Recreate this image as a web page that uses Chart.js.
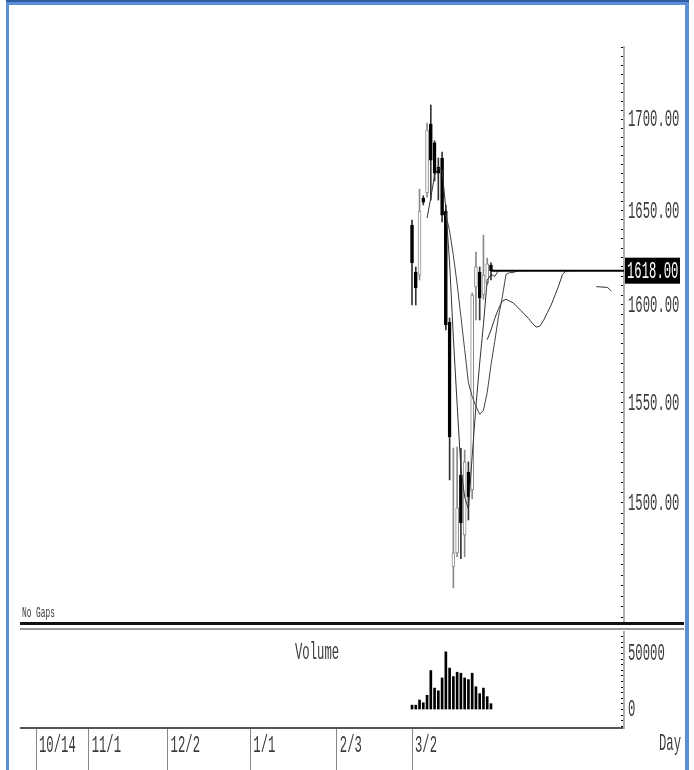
<!DOCTYPE html>
<html>
<head>
<meta charset="utf-8">
<script src="https://cdn.jsdelivr.net/npm/chart.js@4.4.1/dist/chart.umd.min.js"></script>
<style>
  html, body { margin: 0; padding: 0; background: #fff; }
  body { width: 694px; height: 770px; position: relative; overflow: hidden;
         font-family: 'Liberation Mono', 'DejaVu Sans Mono', monospace; }
  .frame-left  { position: absolute; left: 6px; top: 0; width: 3px; height: 770px; background: #5a8fd8; }
  .frame-right { position: absolute; left: 685px; top: 0; width: 4px; height: 770px; background: #5a8fd8; }
  .frame-top   { position: absolute; left: 6px; top: 0; width: 683px; height: 5px; background: #5a8fd8;
                 border-top: 2px solid #2f5d9e; box-sizing: border-box; }
  .sep-black { position: absolute; left: 20px; top: 622px; width: 664px; height: 3px; background: #111; }
  .sep-gray  { position: absolute; left: 20px; top: 628px; width: 664px; height: 2px; background: #999; }
  #priceWrap { position: absolute; left: 20px; top: 40px; width: 664px; height: 585px; }
  #volWrap   { position: absolute; left: 20px; top: 625px; width: 664px; height: 145px; }
  .lbl { position: absolute; color: #3a3a3a; white-space: nowrap; transform-origin: 0 50%; line-height: 1; }
  .big { font-size: 24px; transform: scaleX(0.51); }
  .small { font-size: 14px; transform: scaleX(0.56); }
</style>
</head>
<body>
<div id="priceWrap"><canvas id="price" width="664" height="585"></canvas></div>
<div id="volWrap"><canvas id="volume" width="664" height="145"></canvas></div>
<div class="sep-black"></div>
<div class="sep-gray"></div>
<div class="lbl small" style="left:22px; top:606px;">No Gaps</div>
<div class="lbl big" style="left:295px; top:641px;">Volume</div>
<div class="lbl big" style="left:659px; top:732px;">Day</div>
<div class="frame-left"></div>
<div class="frame-right"></div>
<div class="frame-top"></div>

<script>
// daily bars, index 0 = 3/2
const opens  = [1642.3, 1617.3, 1615.7, 1656.8, 1659.5, 1697.2, 1686.8, 1673.6, 1678.5, 1649.8, 1591.1,
                1469.1, 1475.8, 1513.7, 1484.5, 1515.2, 1506.4, 1609.4, 1617.3, 1605.2, 1611.5, 1621.0];
const highs  = [1644.9, 1620.0, 1661.6, 1658.0, 1697.8, 1707.8, 1688.0, 1678.5, 1681.8, 1653.0, 1593.2,
                1527.1, 1527.6, 1527.0, 1526.1, 1520.2, 1606.3, 1627.9, 1620.0, 1636.9, 1624.7, 1622.1];
const lows   = [1600.0, 1600.0, 1613.1, 1653.0, 1657.3, 1655.7, 1666.0, 1655.7, 1643.9, 1587.0, 1511.3,
                1459.0, 1474.0, 1473.0, 1473.9, 1491.7, 1502.0, 1592.2, 1592.2, 1603.0, 1610.5, 1613.1];
const closes = [1622.1, 1608.9, 1649.8, 1654.6, 1693.9, 1677.4, 1670.3, 1670.3, 1647.6, 1589.6, 1532.6,
                1475.8, 1497.6, 1490.3, 1520.2, 1502.9, 1605.2, 1620.0, 1603.7, 1615.7, 1621.6, 1618.0];
const volumes = [3900, 3900, 8500, 6000, 12700, 34800, 19100, 16700, 28200, 51500, 37000,
                 29400, 33300, 32400, 28200, 26700, 32400, 20300, 14200, 19100, 11500, 5200];

// moving averages by bar index (null = not drawn)
const maFast = [null, null, null, null, 1646, 1657, 1669, 1673, 1672, 1651, 1622, 1583, 1549, 1517,
                1503, 1497, 1523, 1548, 1570, 1590, 1613, 1616, 1615, 1618, 1618];
const maMid  = [null, null, null, null, null, null, null, null, null, 1648, 1639, 1626, 1611, 1594,
                1577, 1560, 1553, 1548, 1544, 1546, 1555, 1569, 1581, 1594, 1604, 1616, 1617, 1617,
                1618, 1618, 1618];
const maSlowStart = 20;
const maSlow = [1582, 1587, 1593, 1598, 1602, 1603, 1602, 1601, 1599, 1597, 1595, 1593, 1590.5, 1588.5,
                1589, 1592, 1596, 1600, 1605, 1610, 1616, 1618, 1618, 1618];
const dashX = [49, 52, 53];
const dashY = [1609.6, 1609.2, 1607.3];
const lastLineX = [21, 57];

// axes
const priceLabels = [1500, 1550, 1600, 1650, 1700];
const dateTicks = [-100, -86, -65, -43, -20, 0];
const dateLabels = ['10/14', '11/1', '12/2', '1/1', '2/3', '3/2'];
const volLabels = [0, 50000];

const xMin = -104.26, xMax = 56.38;
const lastPrice = closes[closes.length - 1];

const NARROW_FONT = "24px 'Liberation Mono', 'DejaVu Sans Mono', monospace";
const NARROW_SX = 0.51;
const textColor = '#3a3a3a';

function series(arr, start) {
    const pts = [];
    arr.forEach((v, i) => { if (v !== null) pts.push({ x: i + (start || 0), y: v }); });
    return pts;
}

// condensed text, like the terminal font of the original
function drawNarrow(ctx, text, x, y, color) {
    ctx.save();
    ctx.font = NARROW_FONT;
    ctx.fillStyle = color;
    ctx.textBaseline = 'middle';
    ctx.textAlign = 'left';
    ctx.translate(x, y);
    ctx.scale(NARROW_SX, 1);
    ctx.fillText(text, 0, 0);
    const w = ctx.measureText(text).width * NARROW_SX;
    ctx.restore();
    return w;
}

const isUp = closes.map((c, i) => c >= opens[i]);

const priceTickValues = [];
for (let v = 1445; v <= 1740; v += 5) priceTickValues.push(v);
const volTickValues = [];
for (let v = -15000; v <= 65000; v += 5000) volTickValues.push(v);

const priceLabelPlugin = {
    id: 'priceLabels',
    afterDraw(chart) {
        const scale = chart.scales.y;
        const ctx = chart.ctx;
        priceLabels.forEach(v => {
            drawNarrow(ctx, v.toFixed(2), scale.left + 4, scale.getPixelForValue(v) + 1, textColor);
        });
        // black box with the last price
        const y = scale.getPixelForValue(lastPrice);
        ctx.save();
        ctx.fillStyle = '#000';
        ctx.fillRect(scale.left + 1, y - 13, 55, 26);
        ctx.restore();
        drawNarrow(ctx, lastPrice.toFixed(2), scale.left + 3, y + 1, '#fff');
    }
};

const volumeLabelPlugin = {
    id: 'volumeLabels',
    afterDraw(chart) {
        const ctx = chart.ctx;
        const ys = chart.scales.y;
        const xs = chart.scales.x;
        volLabels.forEach(v => {
            drawNarrow(ctx, String(v), ys.left + 4, ys.getPixelForValue(v), textColor);
        });
        dateTicks.forEach((t, i) => {
            drawNarrow(ctx, dateLabels[i], xs.getPixelForValue(t) + 3, xs.top + 18, textColor);
        });
    }
};

const priceChart = new Chart(document.getElementById('price'), {
    type: 'bar',
    data: {
        datasets: [
            {
                type: 'line', label: 'last', order: 0,
                data: lastLineX.map(x => ({ x: x, y: lastPrice })),
                borderColor: '#000', borderWidth: 2, pointRadius: 0
            },
            {
                type: 'line', label: 'fast', order: 1,
                data: series(maFast), borderColor: '#333', borderWidth: 1, pointRadius: 0
            },
            {
                type: 'line', label: 'mid', order: 1,
                data: series(maMid), borderColor: '#444', borderWidth: 1, pointRadius: 0
            },
            {
                type: 'line', label: 'slow', order: 1,
                data: series(maSlow, maSlowStart), borderColor: '#333', borderWidth: 1, pointRadius: 0
            },
            {
                type: 'line', label: 'dash', order: 1,
                data: dashX.map((x, i) => ({ x: x, y: dashY[i] })),
                borderColor: '#333', borderWidth: 1, pointRadius: 0
            },
            {
                label: 'body', order: 2, grouped: false,
                data: opens.map((o, i) => ({ x: i, y: [o, closes[i]] })),
                backgroundColor: isUp.map(u => u ? '#fff' : '#000'),
                borderColor: isUp.map(u => u ? '#8a8a8a' : '#000'),
                borderWidth: 1, borderSkipped: false,
                barThickness: 3, minBarLength: 2
            },
            {
                label: 'wick', order: 3, grouped: false,
                data: lows.map((l, i) => ({ x: i, y: [l, highs[i]] })),
                backgroundColor: isUp.map(u => u ? '#8a8a8a' : '#333'),
                barThickness: 1
            }
        ]
    },
    options: {
        responsive: false,
        animation: false,
        layout: { padding: { top: 7, bottom: 3, left: 0, right: 0 } },
        plugins: { legend: { display: false }, tooltip: { enabled: false } },
        scales: {
            x: { type: 'linear', min: xMin, max: xMax, offset: false, display: false },
            y: {
                type: 'logarithmic', position: 'right', min: 1442.9, max: 1740.4,
                afterFit: s => { s.width = 60; },
                afterBuildTicks: s => { s.ticks = priceTickValues.map(v => ({ value: v })); },
                grid: { drawOnChartArea: false, drawTicks: true, tickLength: -3, color: '#000' },
                border: { display: true, color: '#b0b0b0', width: 2 },
                ticks: { display: false }
            }
        }
    },
    plugins: [priceLabelPlugin]
});

const volumeChart = new Chart(document.getElementById('volume'), {
    type: 'bar',
    data: {
        datasets: [{
            label: 'Volume',
            data: volumes.map((v, i) => ({ x: i, y: v })),
            backgroundColor: '#000',
            barThickness: 2
        }]
    },
    options: {
        responsive: false,
        animation: false,
        layout: { padding: { top: 7, bottom: 0, left: 0, right: 0 } },
        plugins: { legend: { display: false }, tooltip: { enabled: false } },
        scales: {
            x: {
                type: 'linear', min: xMin, max: xMax, position: 'bottom', offset: false,
                afterFit: s => { s.height = 42; },
                afterBuildTicks: s => { s.ticks = dateTicks.map(v => ({ value: v })); },
                grid: { offset: false, drawOnChartArea: false, drawTicks: true, tickLength: 42, color: '#888' },
                border: { display: true, color: '#555', width: 2 },
                ticks: { display: false }
            },
            y: {
                position: 'right', min: -16500, max: 69200,
                afterFit: s => { s.width = 60; },
                afterBuildTicks: s => { s.ticks = volTickValues.map(v => ({ value: v })); },
                grid: { drawOnChartArea: false, drawTicks: true, tickLength: -3, color: '#000' },
                border: { display: true, color: '#b0b0b0', width: 2 },
                ticks: { display: false }
            }
        }
    },
    plugins: [volumeLabelPlugin]
});
</script>
</body>
</html>
